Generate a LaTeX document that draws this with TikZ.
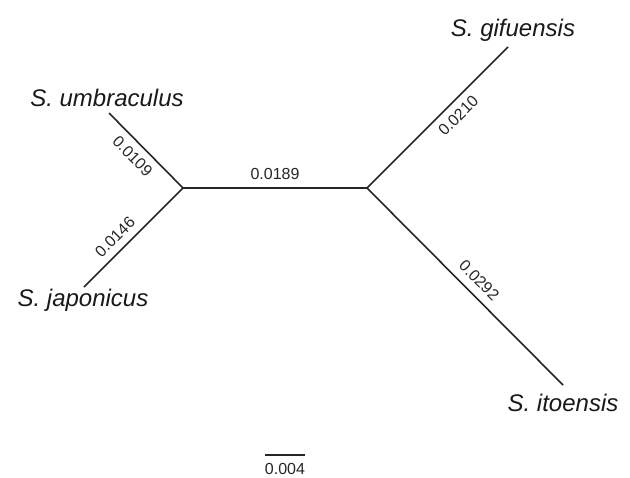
\documentclass[tikz,border=0pt]{standalone}
\usepackage{fontspec}
\setmainfont{Liberation Sans}
\usepackage{tikz}
\usetikzlibrary{positioning}

\begin{document}
\begin{tikzpicture}[
                      x=0.5pt,
                      y=-0.5pt,
                  ]
                  \tikzset{
                      branch/.style = {line width=0.8pt, black!85},
                      taxon/.style = {font=\fontsize{12}{14}\selectfont\itshape, text=black!90, inner sep=1pt},
                      blen/.style = {font=\fontsize{8}{9}\selectfont, text=black!85, inner sep=1.5pt},
                  }

                  \useasboundingbox (0,0) rectangle (630,477);

                  % Internal nodes
                  \coordinate (left) at (183,188);
                  \coordinate (right) at (367,188);

                  % Tips
                  \coordinate (umb) at (109,113);
                  \coordinate (jap) at (84,287);
                  \coordinate (gif) at (508,47);
                  \coordinate (ito) at (563,385);

                  % Species names
                  \node[taxon] (umbname) at (107,98) {S. umbraculus};
                  \node[taxon] (japname) at (83,300) {S. japonicus};
                  \node[taxon] (gifname) at (513,30) {S. gifuensis};
                  \node[taxon] (itoname) at (563,403) {S. itoensis};

                  % Branches
                  \draw[branch] (left) -- (right) node[blen, midway, above=2.5pt] (b1) {0.0189};
                  \draw[branch] (umb) -- (left) node[blen, pos=0.45, sloped, below=2pt] (b2) {0.0109};
                  \draw[branch] (jap) -- (left) node[blen, pos=0.41, sloped, above=2pt] (b3) {0.0146};
                  \draw[branch] (right) -- (gif) node[blen, pos=0.58, sloped, below=2pt] (b4) {0.0210};
                  \draw[branch] (right) -- (ito) node[blen, pos=0.52, sloped, above=2.5pt] (b5) {0.0292};

                  % Scale bar
                  \coordinate (sb1) at (265,455);
                  \coordinate (sb2) at (305,455);
                  \draw[branch] (sb1) -- (sb2) node[blen, midway, below=2.5pt] (sblabel) {0.004};

              \end{tikzpicture}
\end{document}
